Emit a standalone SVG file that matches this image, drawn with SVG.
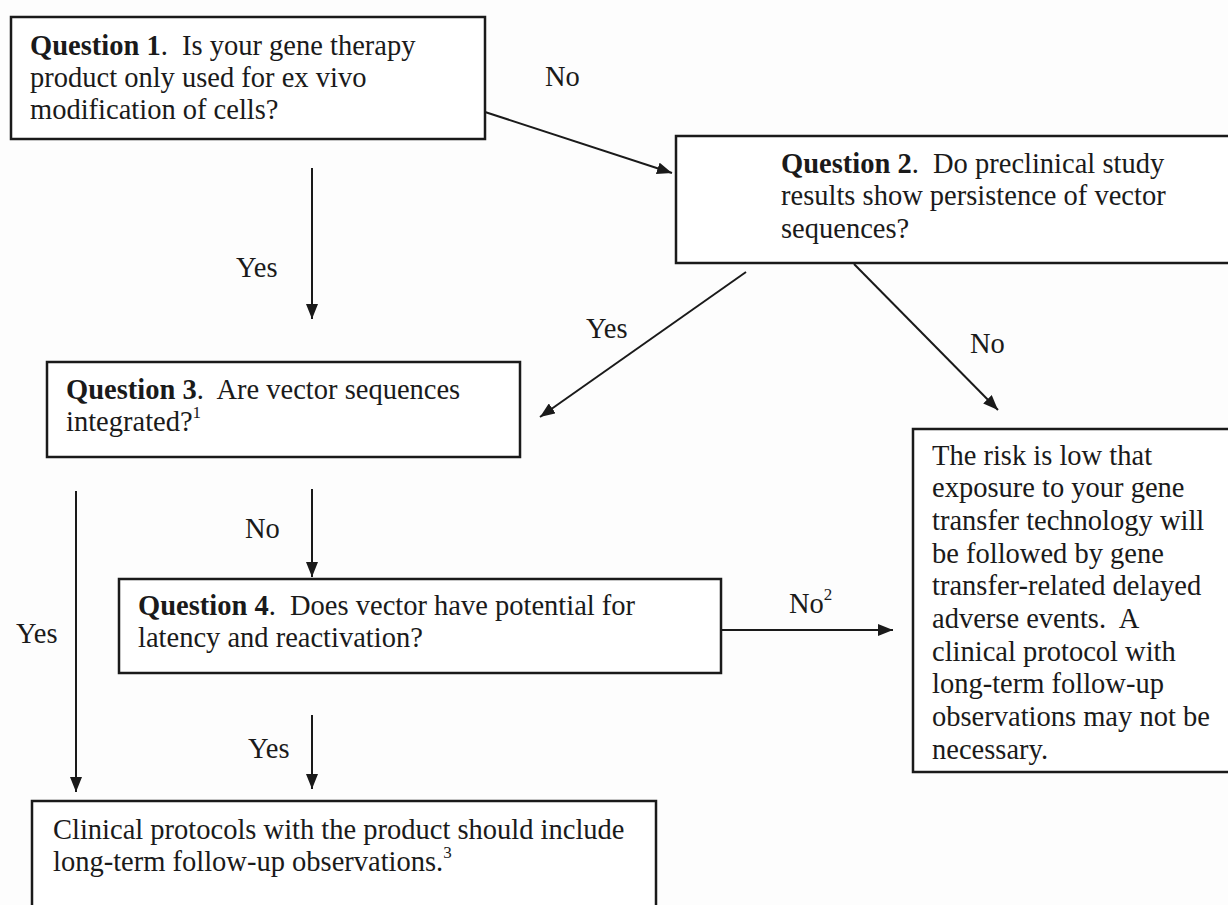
<svg xmlns="http://www.w3.org/2000/svg" width="1228" height="905" viewBox="0 0 1228 905" xml:space="preserve">
<style>
.box{fill:#fff;stroke:#1a1a1a;stroke-width:2.5}
.t{font-family:"Liberation Serif","Times New Roman",serif;font-size:28.5px;fill:#1a1a1a;white-space:pre}
.b{font-weight:bold}
.sup{font-size:17px}
.c{stroke:#1a1a1a;stroke-width:2;fill:none;marker-end:url(#ah)}
</style>
<defs>
<marker id="ah" viewBox="0 0 15 12" refX="15" refY="6" markerWidth="15" markerHeight="12" markerUnits="userSpaceOnUse" orient="auto">
<path d="M0,0 L15,6 L0,12 Z" fill="#1a1a1a"/>
</marker>
</defs>
<rect width="1228" height="905" fill="#fdfdfd"/>

<g id="connectors">
<line class="c" x1="485" y1="112" x2="672" y2="173"/>
<line class="c" x1="312" y1="168" x2="312" y2="319"/>
<line class="c" x1="746" y1="272" x2="540" y2="417"/>
<line class="c" x1="854" y1="264" x2="998" y2="410"/>
<line class="c" x1="312" y1="489" x2="312" y2="577"/>
<line class="c" x1="76" y1="491" x2="76" y2="792"/>
<line class="c" x1="721" y1="630" x2="893" y2="630"/>
<line class="c" x1="312" y1="715" x2="312" y2="789"/>
<text class="t" x="545" y="86">No</text>
<text class="t" x="236" y="277">Yes</text>
<text class="t" x="586" y="338">Yes</text>
<text class="t" x="970" y="353">No</text>
<text class="t" x="245" y="538">No</text>
<text class="t" x="16" y="643">Yes</text>
<text class="t" x="789" y="613">No<tspan class="sup" dy="-13">2</tspan></text>
<text class="t" x="248" y="758">Yes</text>
</g>

<g id="q1">
<rect class="box" x="11" y="17" width="474" height="122"/>
<text class="t" x="30" y="55"><tspan class="b">Question 1</tspan>.  Is your gene therapy</text>
<text class="t" x="30" y="87">product only used for ex vivo</text>
<text class="t" x="30" y="119">modification of cells?</text>
</g>

<g id="q2">
<rect class="box" x="676" y="136" width="560" height="127"/>
<text class="t" x="781" y="173"><tspan class="b">Question 2</tspan>.  Do preclinical study</text>
<text class="t" x="781" y="205">results show persistence of vector</text>
<text class="t" x="781" y="238">sequences?</text>
</g>

<g id="q3">
<rect class="box" x="47" y="362" width="473" height="95"/>
<text class="t" x="66" y="399"><tspan class="b">Question 3</tspan>.  Are vector sequences</text>
<text class="t" x="66" y="431">integrated?<tspan class="sup" dy="-13">1</tspan></text>
</g>

<g id="q4">
<rect class="box" x="119" y="579" width="602" height="94"/>
<text class="t" x="138" y="615"><tspan class="b">Question 4</tspan>.  Does vector have potential for</text>
<text class="t" x="138" y="647">latency and reactivation?</text>
</g>

<g id="risk-low">
<rect class="box" x="913" y="429" width="323" height="343"/>
<text class="t" x="932" y="465">The risk is low that</text>
<text class="t" x="932" y="497">exposure to your gene</text>
<text class="t" x="932" y="530">transfer technology will</text>
<text class="t" x="932" y="563">be followed by gene</text>
<text class="t" x="932" y="595">transfer-related delayed</text>
<text class="t" x="932" y="628">adverse events.  A</text>
<text class="t" x="932" y="661">clinical protocol with</text>
<text class="t" x="932" y="693">long-term follow-up</text>
<text class="t" x="932" y="726">observations may not be</text>
<text class="t" x="932" y="759">necessary.</text>
</g>

<g id="follow-up">
<rect class="box" x="32" y="801" width="624" height="120"/>
<text class="t" x="53" y="839">Clinical protocols with the product should include</text>
<text class="t" x="53" y="871">long-term follow-up observations.<tspan class="sup" dy="-13">3</tspan></text>
</g>
</svg>
